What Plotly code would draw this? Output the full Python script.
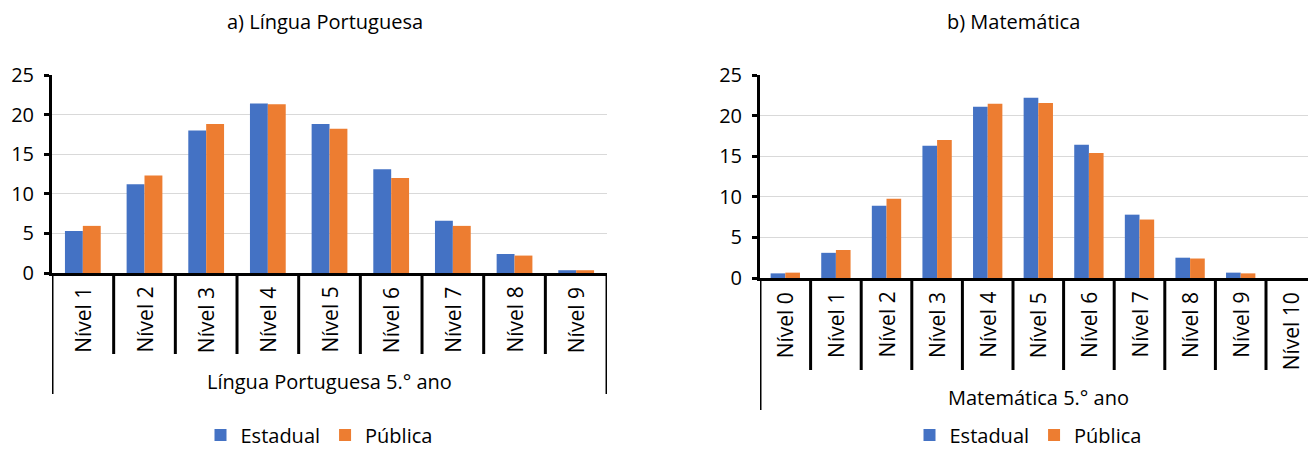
import plotly.graph_objects as go

# ---------------- data ----------------
lp_levels = ["Nível 1", "Nível 2", "Nível 3", "Nível 4", "Nível 5",
             "Nível 6", "Nível 7", "Nível 8", "Nível 9"]
lp_estadual = [5.3, 11.2, 18.0, 21.4, 18.8, 13.1, 6.6, 2.4, 0.35]
lp_publica = [5.95, 12.3, 18.8, 21.3, 18.2, 12.0, 5.95, 2.2, 0.35]
lp_group = "Língua Portuguesa 5.° ano"
lp_title = "a) Língua Portuguesa"

mt_levels = ["Nível 0", "Nível 1", "Nível 2", "Nível 3", "Nível 4", "Nível 5",
             "Nível 6", "Nível 7", "Nível 8", "Nível 9", "Nível 10"]
mt_estadual = [0.57, 3.1, 8.9, 16.3, 21.1, 22.2, 16.4, 7.8, 2.5, 0.66, 0.0]
mt_publica = [0.66, 3.45, 9.75, 17.0, 21.45, 21.55, 15.4, 7.2, 2.4, 0.57, 0.0]
mt_group = "Matemática 5.° ano"
mt_title = "b) Matemática"

series_names = ["Estadual", "Pública"]
yticks = [0, 5, 10, 15, 20, 25]

# ---------------- style ----------------
W, H = 1308, 450
FONT = "Open Sans"
FS = 20
FS_LEVEL = 21
BLUE = "#4472C4"
ORANGE = "#ED7D31"
GRID = "#D9D9D9"


def py(pix):
    return (H - pix) / H


def px(pix):
    return pix / W


fig = go.Figure()

panels = [
    dict(levels=lp_levels, est=lp_estadual, pub=lp_publica, group=lp_group, title=lp_title,
         xa="x", ya="y", legend="legend",
         x0=52, catw=61.67, axis_y=273, inner_bot=354, outer_bot=394,
         label_top=287, group_y=381, title_x=324.5, legend_x=319),
    dict(levels=mt_levels, est=mt_estadual, pub=mt_publica, group=mt_group, title=mt_title,
         xa="x2", ya="y2", legend="legend2",
         x0=760, catw=50.6, axis_y=278, inner_bot=370, outer_bot=410,
         label_top=292, group_y=397, title_x=1013, legend_x=1028),
]

shapes = []
annotations = []

for i, p in enumerate(panels):
    n = len(p["levels"])
    xs = list(range(n))
    for name, vals, col in zip(series_names, [p["est"], p["pub"]], [BLUE, ORANGE]):
        fig.add_trace(go.Bar(
            x=xs, y=vals, name=name, marker=dict(color=col, line=dict(width=0)),
            xaxis=p["xa"], yaxis=p["ya"], legend=p["legend"],
            hovertext=p["levels"],
        ))

    x_right_pix = min(p["x0"] + n * p["catw"], W)
    x_range_max = -0.5 + (x_right_pix - p["x0"]) / p["catw"]
    suffix = "" if i == 0 else str(i + 1)
    fig.layout["xaxis" + suffix] = dict(
        domain=[px(p["x0"]), px(x_right_pix)], range=[-0.5, x_range_max],
        anchor=p["ya"], showticklabels=False, showgrid=False, zeroline=False,
        showline=True, linecolor="black", linewidth=3, ticks="", fixedrange=True,
    )
    fig.layout["yaxis" + suffix] = dict(
        domain=[py(p["axis_y"]), py(75)], range=[0, 25], anchor=p["xa"],
        tickvals=yticks, showgrid=True, gridcolor=GRID, gridwidth=1.3,
        zeroline=False, showline=True, linecolor="black", linewidth=3,
        ticks="outside", ticklen=5, tickwidth=3, tickcolor="black",
        tickfont=dict(family=FONT, size=FS, color="black"),
        ticklabelstandoff=6, fixedrange=True,
    )

    # multi-level category axis: dividers
    for k in range(n + 1):
        xpos = k - 0.5
        if xpos > x_range_max:
            continue
        outer = (k == 0 or k == n)
        shapes.append(dict(
            type="line", xref=p["xa"], yref="paper", x0=xpos, x1=xpos,
            y0=py(p["axis_y"]), y1=py(p["outer_bot"] if outer else p["inner_bot"]),
            line=dict(color="black", width=3),
        ))
    # level labels (rotated)
    for k, lab in enumerate(p["levels"]):
        annotations.append(dict(
            text=lab, x=k, y=py(p["label_top"] - 2), xref=p["xa"], yref="paper",
            textangle=-90, xanchor="center", yanchor="top", showarrow=False,
            font=dict(family=FONT, size=FS_LEVEL, color="black"),
        ))
    # group label
    annotations.append(dict(
        text=p["group"], x=(n - 1) / 2, y=py(p["group_y"]), xref=p["xa"], yref="paper",
        xanchor="center", yanchor="middle", showarrow=False,
        font=dict(family=FONT, size=FS, color="black"),
    ))
    # title
    annotations.append(dict(
        text=p["title"], x=px(p["title_x"]), y=py(22), xref="paper", yref="paper",
        xanchor="center", yanchor="middle", showarrow=False,
        font=dict(family=FONT, size=FS, color="black"),
    ))
    fig.layout[p["legend"]] = dict(
        orientation="h", x=px(p["legend_x"]), y=py(435), xanchor="center", yanchor="middle",
        font=dict(family=FONT, size=FS, color="black"), bgcolor="rgba(0,0,0,0)",
        itemsizing="constant", traceorder="normal", tracegroupgap=0,
    )

fig.update_layout(
    width=W, height=H, autosize=False,
    margin=dict(l=0, r=0, t=0, b=0, autoexpand=False),
    paper_bgcolor="white", plot_bgcolor="white",
    barmode="group", bargap=0.42, bargroupgap=0,
    shapes=shapes, annotations=annotations,
    font=dict(family=FONT, size=FS, color="black"),
    showlegend=True,
)

fig.write_html(
    "out.html",
    config={"displayModeBar": False},
    post_script="document.body.style.margin='0';document.body.style.overflow='hidden';",
)
